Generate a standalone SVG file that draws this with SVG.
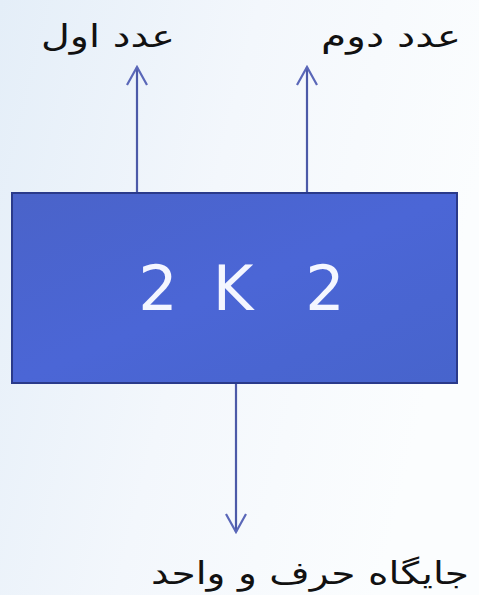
<svg xmlns="http://www.w3.org/2000/svg" width="479" height="595" viewBox="0 0 479 595">
<defs>
<linearGradient id="bg" x1="0" y1="0" x2="1" y2="0.3">
<stop offset="0" stop-color="#e4eef8"/>
<stop offset="0.5" stop-color="#f3f7fc"/>
<stop offset="1" stop-color="#fbfdfe"/>
</linearGradient>
<linearGradient id="box" x1="0" y1="0" x2="1" y2="1">
<stop offset="0" stop-color="#4a63c9"/>
<stop offset="0.5" stop-color="#4b66d6"/>
<stop offset="1" stop-color="#4764cc"/>
</linearGradient>
<marker id="ah" markerWidth="22" markerHeight="24" refX="20" refY="12" orient="auto" markerUnits="userSpaceOnUse" viewBox="0 0 22 24">
<path d="M2,2 L20,12 L2,22" fill="none" stroke="#5a67b8" stroke-width="2.2"/>
</marker>
<style>
.lbl{font-family:"DejaVu Sans","Noto Sans",sans-serif;font-size:31px;fill:#111;}
.big{font-family:"DejaVu Sans","Liberation Sans",sans-serif;font-size:62px;fill:#f4f6ff;}
.con{stroke:#4c5aa8;stroke-width:2.2;fill:none;}
</style>
</defs>
<rect width="479" height="595" fill="url(#bg)"/>
<g id="connectors">
<line class="con" x1="137" y1="193" x2="137" y2="67" marker-end="url(#ah)"/>
<line class="con" x1="307" y1="193" x2="307" y2="67" marker-end="url(#ah)"/>
<line class="con" x1="236" y1="383" x2="236" y2="532" marker-end="url(#ah)"/>
</g>
<g id="box-node">
<rect x="12" y="193" width="445" height="190" fill="url(#box)" stroke="#2a3a8a" stroke-width="2"/>
<text class="big" x="158" y="310" text-anchor="middle">2</text>
<text class="big" x="233" y="310" text-anchor="middle">K</text>
<text class="big" x="325" y="310" text-anchor="middle">2</text>
</g>
<g id="label-first">
<text class="lbl" x="108" y="47" text-anchor="middle" direction="rtl" textLength="134" lengthAdjust="spacingAndGlyphs">عدد اول</text>
</g>
<g id="label-second">
<text class="lbl" x="391" y="47" text-anchor="middle" direction="rtl" textLength="140" lengthAdjust="spacingAndGlyphs">عدد دوم</text>
</g>
<g id="label-bottom">
<text class="lbl" x="310" y="584" text-anchor="middle" direction="rtl" textLength="318" lengthAdjust="spacingAndGlyphs">جایگاه حرف و واحد</text>
</g>
</svg>
